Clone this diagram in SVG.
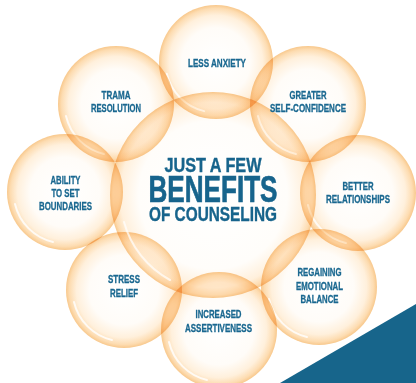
<svg xmlns="http://www.w3.org/2000/svg" xmlns:xlink="http://www.w3.org/1999/xlink" width="416" height="383" viewBox="0 0 416 383">
<defs>
<radialGradient id="bg" cx="0.5" cy="0.5" r="0.5">
<stop offset="0" stop-color="#ffffff"/>
<stop offset="0.6" stop-color="#fffcf8"/>
<stop offset="0.82" stop-color="#fff0dc"/>
<stop offset="0.94" stop-color="#fddcb1"/>
<stop offset="1" stop-color="#f8c88c"/>
</radialGradient>
<radialGradient id="cg" cx="0.5" cy="0.5" r="0.5">
<stop offset="0" stop-color="#ffffff"/>
<stop offset="0.72" stop-color="#fffdfa"/>
<stop offset="0.9" stop-color="#fff0dc"/>
<stop offset="0.97" stop-color="#fddcb1"/>
<stop offset="1" stop-color="#f8c88c"/>
</radialGradient>
<g id="bubble">
<circle r="58" fill="url(#bg)"/>
<path d="M -50 12 A 51 51 0 0 0 -12 50" fill="none" stroke="#ffffff" stroke-width="2" stroke-opacity="0.8" stroke-linecap="round"/>
</g>
</defs>
<style>
.b{mix-blend-mode:multiply}
.t{font-family:"Liberation Sans",Arial,sans-serif;font-weight:bold;fill:#1a6890;stroke:#1a6890;stroke-width:0.3;text-anchor:middle;font-size:10.5px}
.h{font-family:"Liberation Sans",Arial,sans-serif;font-weight:bold;fill:#17648c;stroke:#17648c;text-anchor:middle}
</style>
<rect width="416" height="383" fill="#ffffff"/>
<polygon points="416,304 416,383 280,383" fill="#17658b"/>
<g id="bubbles">
<use xlink:href="#bubble" class="b" transform="translate(216,62) scale(0.983)"/>
<use xlink:href="#bubble" class="b" transform="translate(116,104)"/>
<use xlink:href="#bubble" class="b" transform="translate(308,104)"/>
<use xlink:href="#bubble" class="b" transform="translate(65,192)"/>
<use xlink:href="#bubble" class="b" transform="translate(358,193)"/>
<use xlink:href="#bubble" class="b" transform="translate(124,290)"/>
<use xlink:href="#bubble" class="b" transform="translate(319,287)"/>
<use xlink:href="#bubble" class="b" transform="translate(219,330)"/>
<circle class="b" cx="213" cy="195" r="103" fill="url(#cg)"/>
<path d="M 124 222 A 94 94 0 0 0 170 280" fill="none" stroke="#ffffff" stroke-width="2" stroke-opacity="0.7" stroke-linecap="round"/>
</g>
<g id="center">
<text class="h" x="213" y="172" font-size="21" stroke-width="0.4" textLength="97" lengthAdjust="spacingAndGlyphs">JUST A FEW</text>
<text class="h" x="213" y="202" font-size="36" stroke-width="0.7" textLength="129" lengthAdjust="spacingAndGlyphs">BENEFITS</text>
<text class="h" x="213" y="221" font-size="21" stroke-width="0.4" textLength="128" lengthAdjust="spacingAndGlyphs">OF COUNSELING</text>
</g>
<g id="less-anxiety"><text class="t" x="217" y="67" textLength="58" lengthAdjust="spacingAndGlyphs">LESS ANXIETY</text></g>
<g id="trama"><text class="t" x="116" y="99" textLength="29" lengthAdjust="spacingAndGlyphs">TRAMA</text><text class="t" x="116" y="112" textLength="50" lengthAdjust="spacingAndGlyphs">RESOLUTION</text></g>
<g id="greater"><text class="t" x="308" y="99" textLength="37" lengthAdjust="spacingAndGlyphs">GREATER</text><text class="t" x="308" y="112" textLength="76" lengthAdjust="spacingAndGlyphs">SELF-CONFIDENCE</text></g>
<g id="ability"><text class="t" x="65.5" y="184" textLength="30" lengthAdjust="spacingAndGlyphs">ABILITY</text><text class="t" x="65.5" y="197" textLength="28" lengthAdjust="spacingAndGlyphs">TO SET</text><text class="t" x="65.5" y="210" textLength="53" lengthAdjust="spacingAndGlyphs">BOUNDARIES</text></g>
<g id="better"><text class="t" x="358" y="189.5" textLength="31" lengthAdjust="spacingAndGlyphs">BETTER</text><text class="t" x="358" y="203" textLength="64" lengthAdjust="spacingAndGlyphs">RELATIONSHIPS</text></g>
<g id="stress"><text class="t" x="124" y="283" textLength="32" lengthAdjust="spacingAndGlyphs">STRESS</text><text class="t" x="124" y="296.5" textLength="28" lengthAdjust="spacingAndGlyphs">RELIEF</text></g>
<g id="regaining"><text class="t" x="319.5" y="276" textLength="44" lengthAdjust="spacingAndGlyphs">REGAINING</text><text class="t" x="319.5" y="289.5" textLength="47" lengthAdjust="spacingAndGlyphs">EMOTIONAL</text><text class="t" x="319.5" y="303" textLength="38" lengthAdjust="spacingAndGlyphs">BALANCE</text></g>
<g id="increased"><text class="t" x="218.5" y="317.5" textLength="46" lengthAdjust="spacingAndGlyphs">INCREASED</text><text class="t" x="218.5" y="332" textLength="67" lengthAdjust="spacingAndGlyphs">ASSERTIVENESS</text></g>
</svg>
